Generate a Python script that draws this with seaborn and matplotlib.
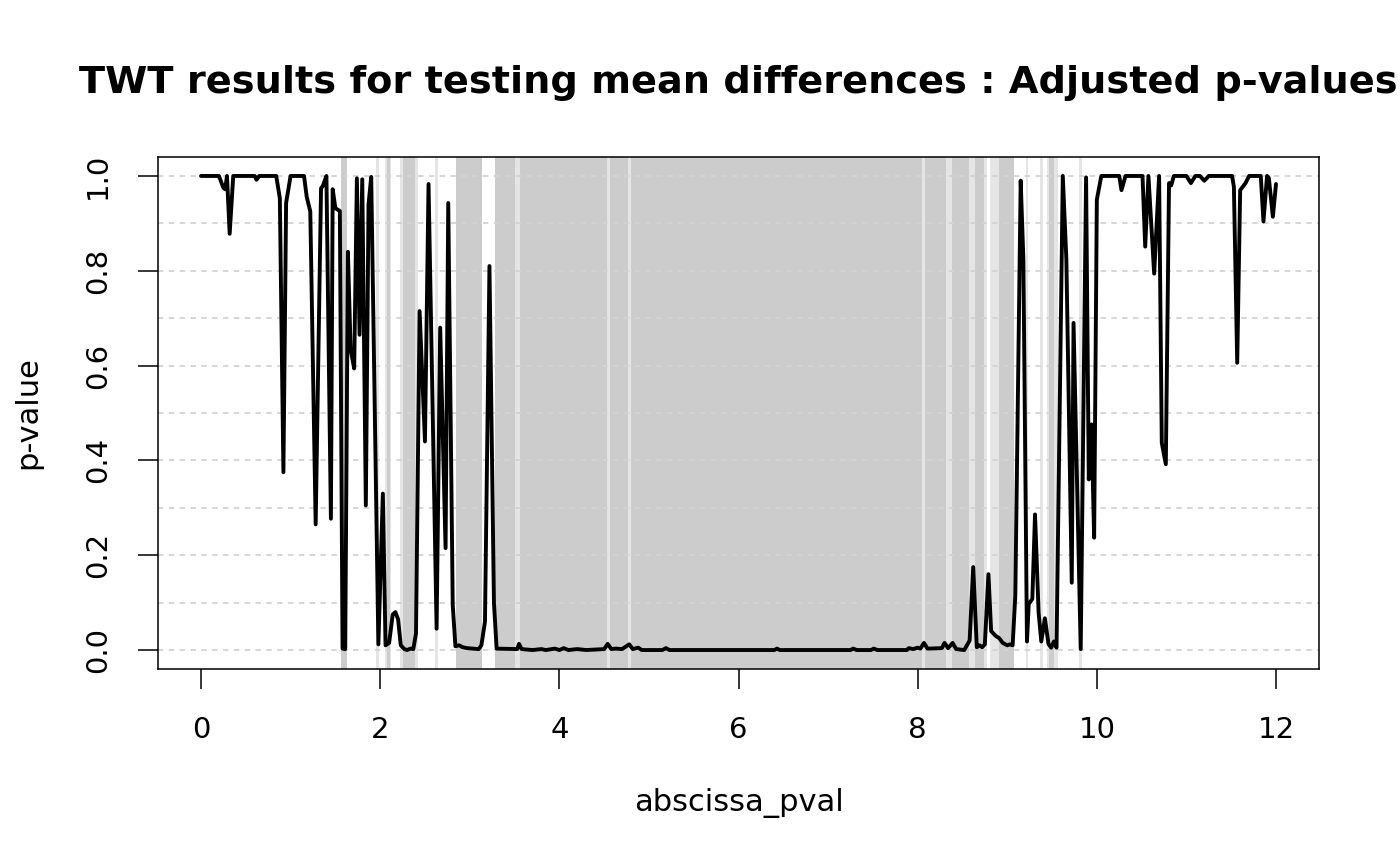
import numpy as np
import pandas as pd
import seaborn as sns
import matplotlib
matplotlib.use('Agg')
import matplotlib.pyplot as plt

# Adjusted p-values (vertices of the curve)
abscissa_pval = [
    0.00, 0.20, 0.25, 0.27, 0.29, 0.32, 0.36, 0.60, 0.62, 0.65,
    0.84, 0.88, 0.92, 0.95, 1.00, 1.15, 1.18, 1.22, 1.28, 1.34,
    1.36, 1.40, 1.45, 1.47, 1.50, 1.55, 1.58, 1.61, 1.64, 1.67,
    1.71, 1.74, 1.77, 1.80, 1.84, 1.87, 1.90, 1.98, 2.03, 2.06,
    2.10, 2.14, 2.17, 2.20, 2.23, 2.27, 2.30, 2.34, 2.37, 2.40,
    2.44, 2.50, 2.54, 2.63, 2.67, 2.73, 2.76, 2.81, 2.84, 2.88,
    2.92, 2.97, 3.10, 3.13, 3.17, 3.22, 3.27, 3.30, 3.53, 3.55,
    3.58, 3.70, 3.80, 3.85, 3.95, 4.00, 4.05, 4.10, 4.20, 4.30,
    4.50, 4.54, 4.58, 4.63, 4.70, 4.78, 4.82, 4.88, 4.92, 5.15,
    5.19, 5.23, 6.40, 6.43, 6.46, 7.25, 7.28, 7.32, 7.48, 7.51,
    7.55, 7.88, 7.90, 7.95, 8.00, 8.03, 8.07, 8.11, 8.27, 8.30,
    8.34, 8.39, 8.43, 8.52, 8.58, 8.62, 8.66, 8.69, 8.72, 8.75,
    8.79, 8.82, 8.87, 8.91, 8.95, 9.00, 9.03, 9.06, 9.09, 9.15,
    9.18, 9.22, 9.24, 9.28, 9.31, 9.35, 9.38, 9.42, 9.46, 9.49,
    9.52, 9.55, 9.62, 9.66, 9.72, 9.74, 9.82, 9.88, 9.91, 9.94,
    9.97, 10.00, 10.05, 10.25, 10.275, 10.32, 10.51, 10.54, 10.576, 10.64,
    10.695, 10.725, 10.77, 10.806, 10.83, 10.86, 11.00, 11.05, 11.10, 11.15,
    11.20, 11.25, 11.51, 11.53, 11.567, 11.60, 11.66, 11.70, 11.83, 11.86,
    11.90, 11.92, 11.965, 12.00,
]
adjusted_pval = [
    1.000, 1.000, 0.975, 0.972, 1.000, 0.878, 1.000, 1.000, 0.992, 1.000,
    1.000, 0.953, 0.375, 0.943, 1.000, 1.000, 0.956, 0.925, 0.265, 0.974,
    0.979, 1.000, 0.277, 0.972, 0.932, 0.926, 0.003, 0.002, 0.840, 0.634,
    0.594, 0.995, 0.665, 0.993, 0.305, 0.940, 0.998, 0.012, 0.330, 0.010,
    0.015, 0.075, 0.080, 0.065, 0.010, 0.002, 0.000, 0.003, 0.002, 0.035,
    0.715, 0.440, 0.983, 0.045, 0.680, 0.215, 0.943, 0.095, 0.008, 0.010,
    0.006, 0.004, 0.002, 0.010, 0.060, 0.810, 0.100, 0.003, 0.002, 0.013,
    0.002, 0.000, 0.002, 0.000, 0.003, 0.000, 0.004, 0.000, 0.002, 0.000,
    0.002, 0.013, 0.002, 0.003, 0.002, 0.012, 0.002, 0.005, 0.000, 0.000,
    0.004, 0.000, 0.000, 0.003, 0.000, 0.000, 0.003, 0.000, 0.000, 0.003,
    0.000, 0.000, 0.004, 0.002, 0.005, 0.003, 0.015, 0.003, 0.004, 0.015,
    0.004, 0.015, 0.002, 0.000, 0.020, 0.175, 0.006, 0.010, 0.006, 0.012,
    0.160, 0.040, 0.030, 0.025, 0.015, 0.010, 0.012, 0.010, 0.115, 0.990,
    0.823, 0.018, 0.097, 0.108, 0.286, 0.079, 0.018, 0.067, 0.013, 0.005,
    0.018, 0.005, 1.000, 0.823, 0.142, 0.690, 0.002, 0.997, 0.360, 0.476,
    0.237, 0.950, 1.000, 1.000, 0.970, 1.000, 1.000, 0.851, 1.000, 0.794,
    1.000, 0.437, 0.392, 0.985, 0.980, 1.000, 1.000, 0.985, 1.000, 1.000,
    0.990, 1.000, 1.000, 0.977, 0.606, 0.970, 0.985, 1.000, 1.000, 0.904,
    1.000, 0.996, 0.914, 0.983,
]

# significance bands: p < 0.01 (dark) and p < 0.05 (light)
band_01 = [
    (1.560, 1.625), (2.074, 2.115), (2.256, 2.387), (2.844, 3.141),
    (3.279, 3.502), (3.565, 4.531), (4.561, 4.765), (4.795, 8.048),
    (8.085, 8.316), (8.383, 8.576), (8.643, 8.743), (8.910, 9.078),
    (9.468, 9.524),
]
band_05 = [
    (1.959, 1.985), (2.052, 2.124), (2.219, 2.417), (2.610, 2.640),
    (3.502, 3.565), (4.531, 4.561), (4.765, 4.795), (8.048, 8.085),
    (8.316, 8.383), (8.576, 8.643), (8.743, 8.776), (8.807, 8.910),
    (9.208, 9.237), (9.364, 9.400), (9.440, 9.570), (9.803, 9.833),
]

y_ticks = [0.0, 0.2, 0.4, 0.6, 0.8, 1.0]
y_grid = [0.0, 0.1, 0.2, 0.3, 0.4, 0.5, 0.6, 0.7, 0.8, 0.9, 1.0]
x_ticks = [0, 2, 4, 6, 8, 10, 12]

sns.set_style('white')
plt.rcParams['font.family'] = ['DejaVu Sans']
plt.rcParams['text.color'] = 'black'
plt.rcParams['axes.labelcolor'] = 'black'

fig = plt.figure(figsize=(14, 8.66), dpi=100)
ax = fig.add_axes([158 / 1400, 1 - 669 / 866, (1319 - 158) / 1400, 512 / 866])

# shaded significance regions
for a, b in band_05:
    ax.axvspan(a, b, color='#e5e5e5', lw=0, zorder=0)
for a, b in band_01:
    ax.axvspan(a, b, color='#cccccc', lw=0, zorder=0.1)

# dotted horizontal grid
for g in y_grid:
    ax.axhline(g, color='#d3d3d3', lw=1.3, ls=(0, (3, 3)), zorder=0.5)

df = pd.DataFrame({'abscissa_pval': abscissa_pval, 'pval': adjusted_pval})
sns.lineplot(data=df, x='abscissa_pval', y='pval', ax=ax, color='black',
             lw=2.8, estimator=None, sort=False, zorder=3,
             solid_joinstyle='round', solid_capstyle='round')

ax.set_xlim(-0.48, 12.48)
ax.set_ylim(-0.04, 1.04)
ax.set_xticks(x_ticks)
ax.set_xticklabels([str(t) for t in x_ticks])
ax.set_yticks(y_ticks)
ax.set_yticklabels([f'{t:.1f}' for t in y_ticks], rotation=90, va='center')
ax.tick_params(axis='both', direction='out', length=14.4, width=1.1,
               color='black', labelsize=21, labelcolor='black',
               bottom=True, left=True, top=False, right=False)
ax.tick_params(axis='x', pad=19.5)
ax.tick_params(axis='y', pad=18.5)
for s in ax.spines.values():
    s.set_color('black')
    s.set_linewidth(1.1)
    s.set_visible(True)

ax.set_xlabel('abscissa_pval', fontsize=22, va='center')
ax.xaxis.set_label_coords(0.5, (669 - 803) / 512)
ax.set_ylabel('p-value', fontsize=22, va='center')
ax.yaxis.set_label_coords((28 - 158) / 1161, 0.5)
ax.set_title('TWT results for testing mean differences : Adjusted p-values',
             fontsize=27.5, fontweight='bold', color='black',
             y=(669 - 93) / 512, pad=0)

fig.savefig('out.png', dpi=100)
